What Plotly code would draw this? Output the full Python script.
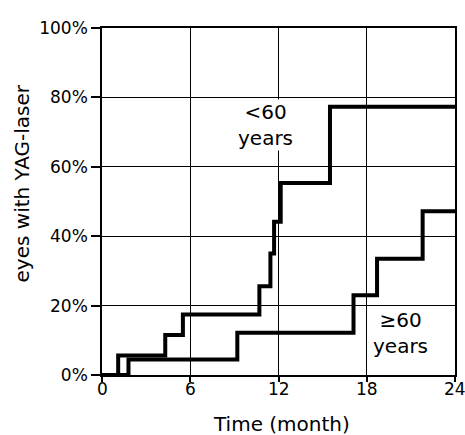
import plotly.graph_objects as go

# Data (months, % of eyes with YAG-laser)
lt60_x = [0, 1.1, 4.3, 5.5, 10.7, 11.45, 11.7, 12.15, 15.5, 24]
lt60_y = [0, 5.6, 11.5, 17.4, 25.6, 35.0, 44.2, 55.3, 77.3, 77.3]

ge60_x = [0, 1.8, 9.2, 17.1, 18.7, 21.8, 24]
ge60_y = [0, 4.5, 12.2, 23.0, 33.5, 47.2, 47.2]

x_ticks = [0, 6, 12, 18, 24]
x_tick_labels = ["0", "6", "12", "18", "24"]
y_ticks = [0, 20, 40, 60, 80, 100]
y_tick_labels = ["0%", "20%", "40%", "60%", "80%", "100%"]

FONT = "DejaVu Sans"

W, H = 465, 435
L, R, T, B = 102, 8, 28, 60
pw, ph = W - L - R, H - T - B


def px_to_paper(px, py):
    return (px - L) / pw, (H - B - py) / ph


fig = go.Figure()
for xs, ys in [(ge60_x, ge60_y), (lt60_x, lt60_y)]:
    fig.add_trace(go.Scatter(x=xs, y=ys, mode="lines", line_shape="hv",
                             line=dict(color="black", width=4),
                             cliponaxis=False, showlegend=False))

fig.add_annotation(x=11.1, y=72, text="&lt;60<br>years", showarrow=False,
                   font=dict(family=FONT, size=20, color="black"),
                   bgcolor="white", xref="x", yref="y", borderpad=0)
fig.add_annotation(x=20.3, y=12.2, text="≥60<br>years", showarrow=False,
                   font=dict(family=FONT, size=20, color="black"),
                   bgcolor="white", xref="x", yref="y", borderpad=0)

# x tick labels drawn as annotations so that "24" is kept at the edge
for v, lab in zip(x_ticks, x_tick_labels):
    fig.add_annotation(x=v, y=px_to_paper(0, 389)[1], xref="x", yref="paper",
                       text=lab, showarrow=False, xanchor="center", yanchor="middle",
                       font=dict(family=FONT, size=17, color="black"))

# axis titles
tx, ty = px_to_paper(283, 424)
fig.add_annotation(x=tx, y=ty, xref="paper", yref="paper", text="Time (month)",
                   showarrow=False, xanchor="center", yanchor="middle",
                   font=dict(family=FONT, size=20, color="black"))
yx, yy = px_to_paper(22, 183)
fig.add_annotation(x=yx, y=yy, xref="paper", yref="paper", text="eyes with YAG-laser",
                   textangle=-90, showarrow=False, xanchor="center", yanchor="middle",
                   font=dict(family=FONT, size=20, color="black"))

fig.update_layout(
    width=W, height=H,
    margin=dict(l=L, r=R, t=T, b=B),
    plot_bgcolor="white", paper_bgcolor="white",
    font=dict(family=FONT, size=17, color="black"),
    xaxis=dict(range=[0, 24], tickvals=x_ticks, showticklabels=False,
               ticks="outside", ticklen=5, tickwidth=1.5, tickcolor="black",
               showline=True, linecolor="black", linewidth=1.5, mirror=True,
               showgrid=True, gridcolor="black", gridwidth=1, zeroline=False),
    yaxis=dict(range=[0, 100], tickvals=y_ticks, ticktext=y_tick_labels,
               ticks="outside", ticklen=9, tickwidth=1.5, tickcolor="black",
               showline=True, linecolor="black", linewidth=1.5, mirror=True,
               showgrid=True, gridcolor="black", gridwidth=1, zeroline=False),
)

fig.write_html("out.html")
